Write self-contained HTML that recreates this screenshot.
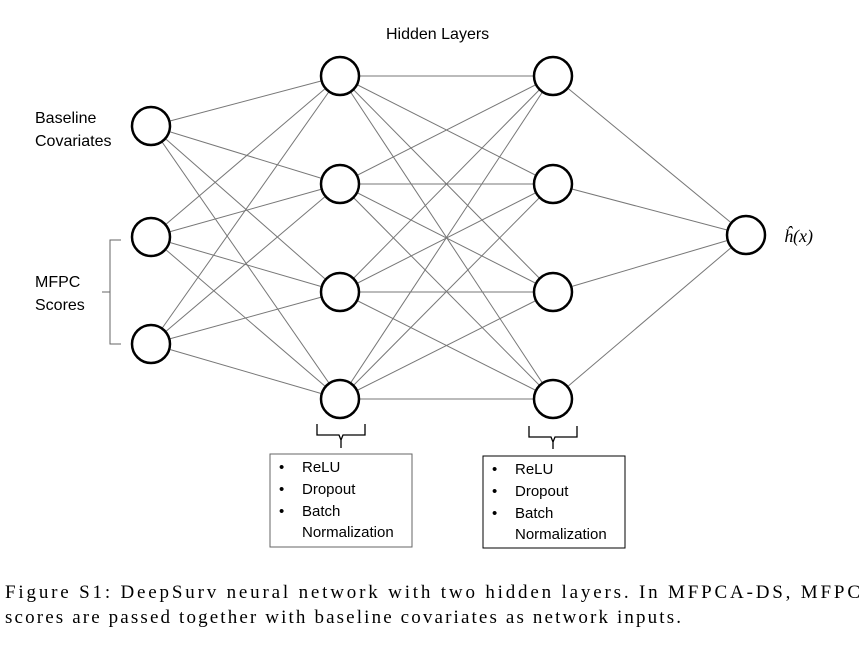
<!DOCTYPE html>
<html><head><style>
body{margin:0;background:#fff;width:865px;height:654px;overflow:hidden}
.s{font-family:"Liberation Sans",sans-serif}
.r{font-family:"Liberation Serif",serif}
</style></head><body>
<svg width="865" height="654" viewBox="0 0 865 654">
<g stroke="#777" stroke-width="1" fill="none" id="edges"></g>
<g stroke="#000" stroke-width="2.5" fill="#fff" id="nodes"></g>
<g fill="#000" font-size="16" class="s">
<text x="386" y="39">Hidden Layers</text>
<text x="35" y="123">Baseline</text>
<text x="35" y="146">Covariates</text>
<text x="35" y="287">MFPC</text>
<text x="35" y="310">Scores</text>
</g>
<text x="784" y="242" class="r" font-style="italic" font-size="18">ĥ(x)</text>
<path d="M121,240 H110 V344 H121 M110,292 H102" stroke="#666" fill="none" stroke-width="1"/>
<path d="M317,424 V435 H339 L341,440 L343,435 H365 V424 M341,440 V448" stroke="#000" fill="none" stroke-width="1.3"/>
<path d="M529,426 V437 H551 L553,442 L555,437 H577 V426 M553,442 V449" stroke="#000" fill="none" stroke-width="1.3"/>
<rect x="270" y="454" width="142" height="93" fill="none" stroke="#666"/>
<rect x="483" y="456" width="142" height="92" fill="none" stroke="#000"/>
<g font-size="15" fill="#000" class="s">
<text x="279" y="472">•</text><text x="302" y="472">ReLU</text>
<text x="279" y="494">•</text><text x="302" y="494">Dropout</text>
<text x="279" y="516">•</text><text x="302" y="516">Batch</text>
<text x="302" y="537">Normalization</text>
<text x="492" y="474">•</text><text x="515" y="474">ReLU</text>
<text x="492" y="496">•</text><text x="515" y="496">Dropout</text>
<text x="492" y="518">•</text><text x="515" y="518">Batch</text>
<text x="515" y="539">Normalization</text>
</g>
<g font-size="19" fill="#000" class="r">
<text x="5" y="598" textLength="855" lengthAdjust="spacing">Figure S1: DeepSurv neural network with two hidden layers.  In MFPCA-DS, MFPC</text>
<text x="5" y="623" textLength="676" lengthAdjust="spacing">scores are passed together with baseline covariates as network inputs.</text>
</g>
<script>
var L=[[[151,126],[151,237],[151,344]],[[340,76],[340,184],[340,292],[340,399]],[[553,76],[553,184],[553,292],[553,399]],[[746,235]]];
var e=document.getElementById('edges'),n=document.getElementById('nodes'),ns='http://www.w3.org/2000/svg';
for(var i=0;i<3;i++)L[i].forEach(function(a){L[i+1].forEach(function(b){var l=document.createElementNS(ns,'line');l.setAttribute('x1',a[0]);l.setAttribute('y1',a[1]);l.setAttribute('x2',b[0]);l.setAttribute('y2',b[1]);e.appendChild(l);});});
L.forEach(function(k){k.forEach(function(p){var c=document.createElementNS(ns,'circle');c.setAttribute('cx',p[0]);c.setAttribute('cy',p[1]);c.setAttribute('r',19);n.appendChild(c);});});
</script>
</svg>
</body></html>
